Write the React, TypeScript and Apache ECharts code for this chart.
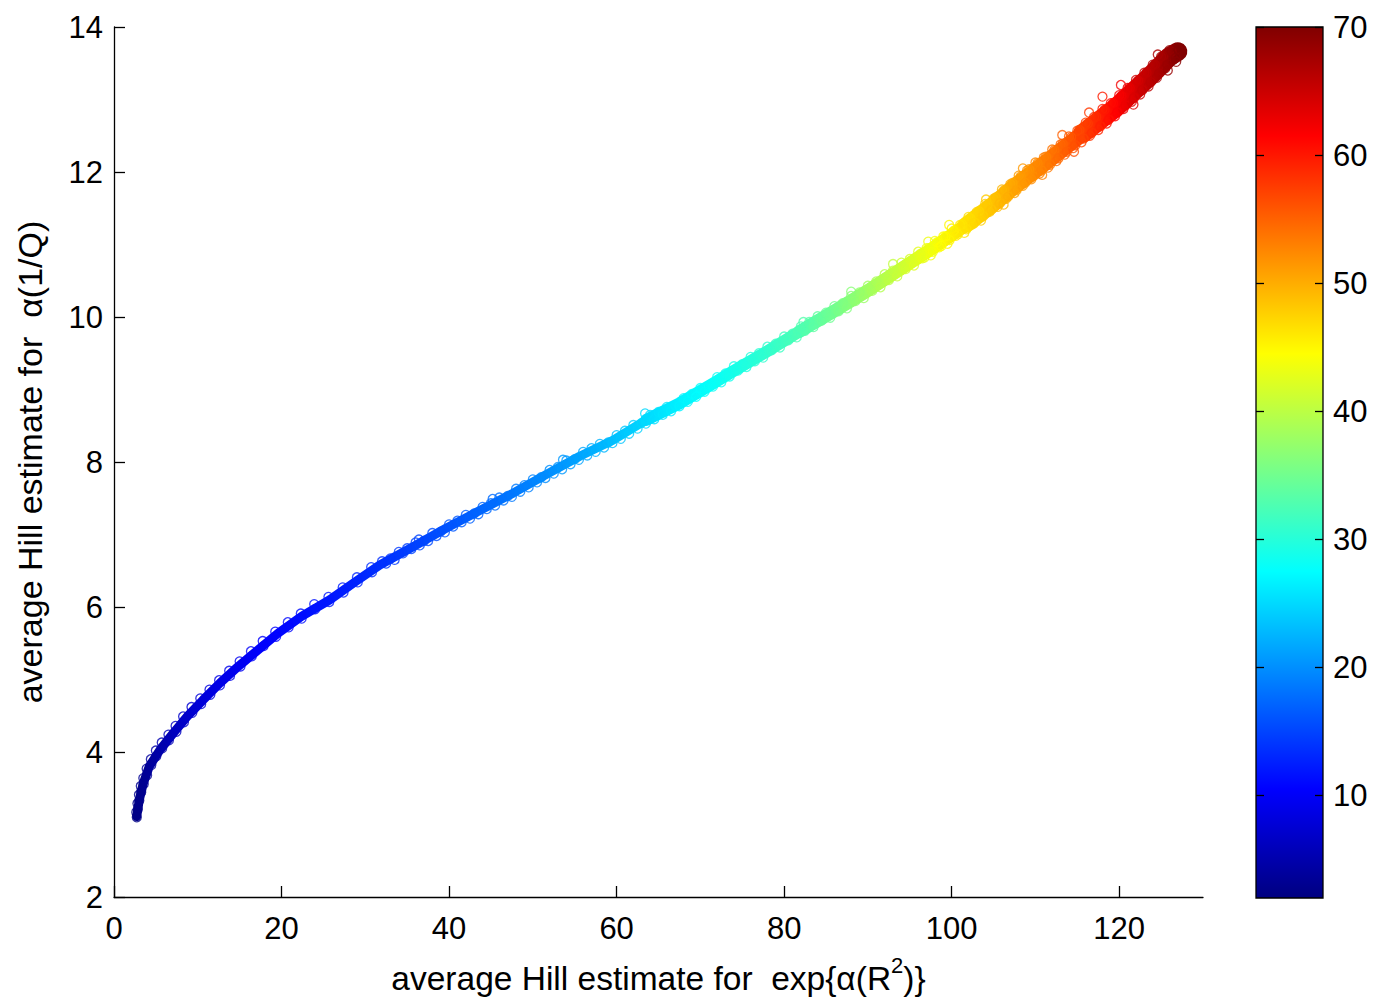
import React, { useEffect, useRef } from "react";
import * as echarts from "echarts";

const FONT = '"Liberation Sans", Arial, Helvetica, sans-serif';

// axis ticks
const xTicks = [0, 20, 40, 60, 80, 100, 120];
const colorTicks = [10, 20, 30, 40, 50, 60, 70];
const colorMin = 2;
const colorMax = 70;

// centre line of the band of points (x, y, colour value)
const centerX = [2.71, 3.02, 3.5, 4.21, 5.49, 7.08, 8.75, 10.65, 12.64, 14.83, 17.22, 19.6, 22.39, 25.77, 28.7, 31.73, 35.7, 39.69, 43.66, 47.63, 51.62, 55.59, 59.56, 63.54, 67.52, 71.49, 73.88, 77.86, 81.83, 85.81, 89.79, 93.76, 97.74, 101.72, 104.9, 107.68, 111.66, 115.63, 119.61, 123.58, 125.97, 127.0];
const centerY = [3.11, 3.34, 3.57, 3.8, 4.03, 4.26, 4.49, 4.72, 4.95, 5.18, 5.41, 5.64, 5.87, 6.1, 6.34, 6.58, 6.83, 7.09, 7.33, 7.57, 7.83, 8.08, 8.3, 8.58, 8.81, 9.08, 9.25, 9.52, 9.8, 10.07, 10.35, 10.65, 10.95, 11.27, 11.55, 11.82, 12.17, 12.53, 12.89, 13.31, 13.59, 13.66];
const centerV = [2.5, 2.8, 3.2, 3.8, 4.8, 6.0, 7.0, 8.0, 8.8, 9.5, 10.2, 10.8, 11.4, 12.0, 12.8, 13.6, 14.8, 16.0, 17.3, 18.5, 19.9, 21.5, 23.2, 25.0, 26.6, 28.0, 29.0, 30.8, 32.6, 35.0, 38.0, 41.0, 43.8, 46.5, 48.5, 50.8, 53.5, 57.0, 61.5, 66.0, 68.5, 70.0];

// individual circles [x, y, colour value]
const lowPoints: number[][] = [
  [2.72, 3.1, 2.4], [2.66, 3.17, 2.5], [2.84, 3.21, 2.6], [2.8, 3.29, 2.7], [3.02, 3.33, 2.8], [2.98, 3.41, 2.9],
  [3.25, 3.45, 3.0], [3.2, 3.53, 3.1], [3.55, 3.56, 3.3], [3.5, 3.64, 3.4], [3.95, 3.68, 3.5], [3.9, 3.77, 3.7],
  [4.45, 3.82, 3.9], [4.4, 3.9, 4.1], [5.05, 3.94, 4.4], [5.0, 4.02, 4.6], [5.75, 4.05, 5.0], [5.7, 4.13, 5.2],
  [6.55, 4.16, 5.6], [6.5, 4.24, 5.8], [7.45, 4.28, 6.2], [7.35, 4.36, 6.4], [8.35, 4.41, 6.8], [8.25, 4.49, 7.0],
  [9.35, 4.54, 7.3], [9.25, 4.62, 7.5], [10.4, 4.66, 7.9], [10.3, 4.74, 8.0], [11.5, 4.79, 8.3], [11.4, 4.86, 8.4],
  [12.65, 4.92, 8.8], [12.55, 4.99, 8.9], [13.85, 5.05, 9.2], [13.75, 5.12, 9.3], [15.1, 5.18, 9.6], [15.0, 5.25, 9.7],
  [16.45, 5.32, 10.0], [16.35, 5.39, 10.1], [17.85, 5.46, 10.3], [17.75, 5.53, 10.4], [19.35, 5.59, 10.6], [19.25, 5.66, 10.7],
  [20.85, 5.72, 10.9], [20.75, 5.79, 11.0], [22.4, 5.84, 11.3], [22.3, 5.91, 11.4], [24.0, 5.97, 11.6], [23.9, 6.04, 11.7],
  [25.7, 6.07, 12.0], [25.6, 6.14, 12.0], [27.4, 6.2, 12.4], [27.3, 6.27, 12.5], [29.1, 6.34, 12.9], [29.0, 6.41, 13.0],
  [30.8, 6.48, 13.4], [30.7, 6.55, 13.5],
];

const midPoints: number[][] = [
  [32.0, 6.63, 13.7], [32.5, 6.6, 13.9], [33.0, 6.67, 14.0], [33.5, 6.65, 14.2], [34.0, 6.76, 14.3], [34.5, 6.74, 14.5],
  [35.0, 6.81, 14.6], [35.5, 6.8, 14.8], [36.0, 6.89, 14.9], [36.5, 6.85, 15.1], [37.0, 6.91, 15.2], [37.5, 6.91, 15.4],
  [38.0, 7.02, 15.5], [38.5, 6.98, 15.7], [39.0, 7.04, 15.8], [39.5, 7.03, 16.0], [40.0, 7.14, 16.1], [40.5, 7.11, 16.3],
  [41.0, 7.19, 16.4], [41.5, 7.17, 16.6], [42.0, 7.27, 16.7], [42.5, 7.22, 16.9], [43.0, 7.29, 17.1], [43.5, 7.28, 17.2],
  [44.0, 7.38, 17.4], [44.5, 7.35, 17.5], [45.0, 7.43, 17.7], [45.5, 7.4, 17.8], [46.0, 7.51, 18.0], [46.5, 7.47, 18.2],
  [47.0, 7.53, 18.3], [47.5, 7.52, 18.5], [48.0, 7.63, 18.6], [48.5, 7.59, 18.8], [49.0, 7.68, 19.0], [49.5, 7.65, 19.1],
  [50.0, 7.76, 19.3], [50.5, 7.72, 19.5], [51.0, 7.79, 19.7], [51.5, 7.78, 19.9], [52.0, 7.89, 20.1], [52.5, 7.84, 20.2],
  [53.0, 7.93, 20.4], [53.5, 7.9, 20.6], [54.0, 8.02, 20.8], [54.5, 7.97, 21.0], [55.0, 8.04, 21.2], [55.5, 8.03, 21.4],
  [56.0, 8.14, 21.7], [56.5, 8.09, 21.9], [57.0, 8.19, 22.1], [57.5, 8.14, 22.3], [58.0, 8.25, 22.5], [58.5, 8.2, 22.7],
  [59.0, 8.27, 23.0], [59.5, 8.26, 23.2], [60.0, 8.37, 23.4], [60.5, 8.32, 23.6], [61.0, 8.43, 23.9], [61.5, 8.39, 24.1],
  [62.0, 8.51, 24.3], [62.5, 8.46, 24.5], [63.0, 8.54, 24.8], [63.5, 8.53, 25.0], [64.0, 8.65, 25.2], [64.5, 8.59, 25.4],
  [65.0, 8.69, 25.6], [65.5, 8.65, 25.8], [66.0, 8.76, 26.0], [66.5, 8.7, 26.2], [67.0, 8.78, 26.4], [67.5, 8.77, 26.6],
  [68.0, 8.88, 26.8], [68.5, 8.83, 27.0], [69.0, 8.94, 27.2], [69.5, 8.9, 27.4], [70.0, 9.02, 27.6], [70.5, 8.97, 27.8],
  [71.0, 9.05, 27.9], [71.5, 9.04, 28.0], [53.6, 8.03, 20.6], [63.4, 8.67, 25.0], [45.2, 7.49, 17.7], [36.4, 6.93, 15.0],
];

const highPoints: number[][] = [
  [72.0, 9.17, 28.2], [72.5, 9.1, 28.4], [73.0, 9.22, 28.6], [73.5, 9.18, 28.8], [74.0, 9.32, 29.0], [74.5, 9.26, 29.2],
  [75.0, 9.35, 29.5], [75.5, 9.31, 29.7], [76.0, 9.45, 29.9], [76.5, 9.39, 30.1], [77.0, 9.5, 30.4], [77.5, 9.44, 30.6],
  [78.0, 9.59, 30.8], [78.5, 9.54, 31.0], [79.0, 9.63, 31.3], [79.5, 9.58, 31.5], [80.0, 9.73, 31.7], [80.5, 9.68, 31.9],
  [81.0, 9.77, 32.2], [81.5, 9.72, 32.4], [82.0, 9.87, 32.7], [82.5, 9.81, 33.0], [83.0, 9.93, 33.3], [83.5, 9.86, 33.6],
  [84.0, 10.01, 33.9], [84.5, 9.95, 34.2], [85.0, 10.06, 34.5], [85.5, 9.99, 34.8], [86.0, 10.15, 35.1], [86.5, 10.08, 35.5],
  [87.0, 10.19, 35.9], [87.5, 10.12, 36.2], [88.0, 10.29, 36.6], [88.5, 10.22, 37.0], [89.0, 10.34, 37.4], [89.5, 10.26, 37.8],
  [90.0, 10.43, 38.2], [90.5, 10.36, 38.5], [91.0, 10.49, 38.9], [91.5, 10.41, 39.3], [92.0, 10.59, 39.7], [92.5, 10.51, 40.0],
  [93.0, 10.64, 40.4], [93.5, 10.56, 40.8], [94.0, 10.75, 41.2], [94.5, 10.66, 41.5], [95.0, 10.8, 41.9], [95.5, 10.71, 42.2],
  [96.0, 10.9, 42.6], [96.5, 10.81, 42.9], [97.0, 10.95, 43.3], [97.5, 10.85, 43.6], [98.0, 11.05, 44.0], [98.5, 10.96, 44.3],
  [99.0, 11.11, 44.6], [99.5, 11.01, 45.0], [100.0, 11.22, 45.3], [100.5, 11.12, 45.6], [101.0, 11.27, 46.0], [101.5, 11.16, 46.3],
  [102.0, 11.38, 46.7], [102.5, 11.28, 47.0], [103.0, 11.45, 47.3], [103.5, 11.33, 47.6], [104.0, 11.56, 47.9], [104.5, 11.45, 48.3],
  [105.0, 11.63, 48.6], [105.5, 11.52, 49.0], [106.0, 11.76, 49.4], [106.5, 11.63, 49.8], [107.0, 11.83, 50.2], [107.5, 11.71, 50.6],
  [108.0, 11.95, 51.0], [108.5, 11.81, 51.4], [109.0, 12.02, 51.7], [109.5, 11.9, 52.0], [110.0, 12.13, 52.3], [110.5, 11.98, 52.6],
  [111.0, 12.2, 53.0], [111.5, 12.06, 53.4], [112.0, 12.31, 53.8], [112.5, 12.15, 54.3], [113.0, 12.38, 54.7], [113.5, 12.24, 55.2],
  [114.0, 12.49, 55.6], [114.5, 12.33, 56.0], [115.0, 12.57, 56.5], [115.5, 12.41, 56.9], [116.0, 12.68, 57.4], [116.5, 12.5, 57.9],
  [117.0, 12.76, 58.5], [117.5, 12.58, 59.0], [118.0, 12.87, 59.6], [118.5, 12.67, 60.2], [119.0, 12.95, 60.8], [119.5, 12.77, 61.4],
  [120.0, 13.06, 62.0], [120.5, 12.87, 62.6], [121.0, 13.16, 63.1], [121.5, 12.97, 63.7], [122.0, 13.27, 64.2], [122.5, 13.07, 64.8],
  [123.0, 13.37, 65.4], [123.5, 13.18, 65.9], [124.0, 13.48, 66.4], [124.5, 13.3, 66.9], [125.0, 13.59, 67.4], [125.5, 13.43, 68.0],
  [126.0, 13.68, 68.5], [126.5, 13.55, 69.0], [127.0, 13.7, 69.6], [127.2, 13.62, 69.9],
];

const topFillPoints: number[][] = [
  [96.25, 10.87, 42.7], [96.75, 10.82, 43.1], [97.25, 10.95, 43.4], [97.75, 10.9, 43.8], [98.25, 11.03, 44.1], [98.75, 10.98, 44.5],
  [99.25, 11.11, 44.8], [99.75, 11.06, 45.1], [100.25, 11.19, 45.5], [100.75, 11.14, 45.8], [101.25, 11.28, 46.2], [101.75, 11.21, 46.5],
  [102.25, 11.36, 46.8], [102.75, 11.3, 47.1], [103.25, 11.46, 47.4], [103.75, 11.39, 47.8], [104.25, 11.55, 48.1], [104.75, 11.48, 48.4],
  [105.25, 11.65, 48.8], [105.75, 11.57, 49.2], [106.25, 11.75, 49.6], [106.75, 11.66, 50.0], [107.25, 11.85, 50.4], [107.75, 11.75, 50.8],
  [108.25, 11.94, 51.2], [108.75, 11.85, 51.5], [109.25, 12.04, 51.8], [109.75, 11.94, 52.1], [110.25, 12.12, 52.5], [110.75, 12.02, 52.8],
  [111.25, 12.21, 53.2], [111.75, 12.1, 53.6], [112.25, 12.3, 54.0], [112.75, 12.19, 54.5], [113.25, 12.39, 54.9], [113.75, 12.28, 55.4],
  [114.25, 12.48, 55.8], [114.75, 12.37, 56.2], [115.25, 12.58, 56.7], [115.75, 12.46, 57.1], [116.25, 12.67, 57.6], [116.75, 12.54, 58.2],
  [117.25, 12.76, 58.7], [117.75, 12.63, 59.3], [118.25, 12.86, 59.9], [118.75, 12.72, 60.5], [119.25, 12.95, 61.1], [119.75, 12.82, 61.7],
  [120.25, 13.05, 62.3], [120.75, 12.92, 62.8], [121.25, 13.16, 63.4], [121.75, 13.02, 64.0], [122.25, 13.26, 64.5], [122.75, 13.13, 65.1],
  [123.25, 13.37, 65.6], [123.75, 13.24, 66.1], [124.25, 13.48, 66.6], [124.75, 13.36, 67.1], [125.25, 13.6, 67.7], [125.75, 13.48, 68.2],
  [126.25, 13.66, 68.7], [126.75, 13.58, 69.2], [127.1, 13.68, 69.8],
];

const outlierPoints: number[][] = [
  [99.7, 11.27, 45.1], [113.2, 12.51, 55.1], [118.0, 13.04, 59.6], [120.2, 13.2, 62.2], [108.5, 12.05, 51.4], [116.4, 12.82, 57.8],
  [124.6, 13.62, 67.0], [104.1, 11.62, 48.0], [93.0, 10.73, 40.4], [88.0, 10.35, 36.6], [82.3, 9.93, 33.0], [97.2, 11.04, 43.4],
  [106.2, 11.55, 49.5], [110.8, 11.96, 52.8], [114.6, 12.28, 56.1], [121.7, 12.93, 63.8], [125.8, 13.4, 68.3], [126.8, 13.52, 69.3],
];

function clamp01(a: number) {
  return Math.max(0, Math.min(1, a));
}

// MATLAB "jet" colour map
function jet(v: number) {
  const t = clamp01((v - colorMin) / (colorMax - colorMin));
  const r = clamp01(1.5 - Math.abs(4 * t - 3));
  const g = clamp01(1.5 - Math.abs(4 * t - 2));
  const b = clamp01(1.5 - Math.abs(4 * t - 1));
  return `rgb(${Math.round(r * 255)},${Math.round(g * 255)},${Math.round(b * 255)})`;
}

// band line drawn through the centre points from index `from`, coloured by the colour values
function bandLine(from: number, width: number, z: number) {
  const xs = centerX.slice(from);
  const ys = centerY.slice(from);
  const vs = centerV.slice(from);
  const x0 = xs[0];
  const x1 = xs[xs.length - 1];
  const stops = xs.map((x, i) => ({ offset: (x - x0) / (x1 - x0), color: jet(vs[i]) }));
  return {
    type: "line",
    xAxisIndex: 0,
    yAxisIndex: 0,
    data: xs.map((x, i) => [x, ys[i]]),
    showSymbol: false,
    silent: true,
    z,
    lineStyle: {
      width,
      cap: "round",
      join: "round",
      color: new echarts.graphic.LinearGradient(0, 0, 1, 0, stops),
    },
  };
}

export default function App() {
  const ref = useRef<HTMLDivElement>(null);

  useEffect(() => {
    if (!ref.current) return;
    const chart = echarts.init(ref.current, null, { renderer: "svg" });

    const barStops = [0, 0.125, 0.25, 0.375, 0.5, 0.625, 0.75, 0.875, 1].map((t) => ({
      offset: t,
      color: jet(colorMin + t * (colorMax - colorMin)),
    }));

    const allPoints = [...lowPoints, ...midPoints, ...highPoints, ...topFillPoints, ...outlierPoints];

    const labelStyle = { color: "#000", fontSize: 31, fontFamily: FONT };
    const tickLine = { color: "#000", width: 1.3 };

    chart.setOption({
      animation: false,
      backgroundColor: "#fff",
      grid: [
        { left: 114, top: 27, width: 1089, height: 870, containLabel: false, outerBoundsMode: "none" },
        { left: 1256, top: 27, width: 67, height: 871, containLabel: false, outerBoundsMode: "none" },
      ],
      xAxis: [
        {
          gridIndex: 0,
          type: "value",
          min: 0,
          max: 130,
          axisLine: { show: true, onZero: false, lineStyle: tickLine },
          axisTick: { show: true, inside: true, length: 11, lineStyle: tickLine, customValues: xTicks },
          axisLabel: { ...labelStyle, margin: 16, customValues: xTicks },
          splitLine: { show: false },
          name: "{a|average Hill estimate for  exp{α(R}{s|2}{a|)}}",
          nameLocation: "middle",
          nameGap: 57,
          nameTextStyle: {
            color: "#000",
            fontSize: 33.5,
            fontFamily: FONT,
            lineHeight: 48,
            rich: {
              a: { color: "#000", fontSize: 33.5, fontFamily: FONT, lineHeight: 48 },
              s: { color: "#000", fontSize: 22, fontFamily: FONT, lineHeight: 22, verticalAlign: "top" },
            },
          },
        },
        { gridIndex: 1, type: "value", min: 0, max: 1, show: false },
      ],
      yAxis: [
        {
          gridIndex: 0,
          type: "value",
          min: 2,
          max: 14,
          interval: 2,
          axisLine: { show: true, onZero: false, lineStyle: tickLine },
          axisTick: { show: true, inside: true, length: 11, lineStyle: tickLine },
          axisLabel: { ...labelStyle, margin: 11 },
          splitLine: { show: false },
          name: "average Hill estimate for  α(1/Q)",
          nameLocation: "middle",
          nameRotate: 90,
          nameGap: 67,
          nameTextStyle: { color: "#000", fontSize: 34, fontFamily: FONT },
        },
        {
          gridIndex: 1,
          type: "value",
          position: "right",
          min: colorMin,
          max: colorMax,
          z: 10,
          axisLine: { show: false, onZero: false },
          axisTick: { show: true, inside: true, length: 8, lineStyle: tickLine, customValues: colorTicks },
          axisLabel: { ...labelStyle, margin: 10, customValues: colorTicks },
          splitLine: { show: false },
        },
        {
          gridIndex: 1,
          type: "value",
          position: "left",
          min: colorMin,
          max: colorMax,
          z: 10,
          axisLine: { show: false, onZero: false },
          axisTick: { show: true, inside: true, length: 8, lineStyle: tickLine, customValues: colorTicks },
          axisLabel: { show: false },
          splitLine: { show: false },
        },
      ],
      graphic: {
        z: -1,
        elements: [
          {
            type: "rect",
            z: -1,
            silent: true,
            shape: { x: 1256, y: 27, width: 67, height: 871 },
            style: {
              fill: new echarts.graphic.LinearGradient(0, 1, 0, 0, barStops),
              stroke: "#000",
              lineWidth: 1.3,
            },
          },
        ],
      },
      series: [
        bandLine(0, 9, 2),
        bandLine(23, 12, 2),
        bandLine(28, 13, 2),
        bandLine(33, 16, 2),
        bandLine(37, 19, 2),
        {
          type: "scatter",
          xAxisIndex: 0,
          yAxisIndex: 0,
          symbol: "circle",
          symbolSize: 9,
          silent: true,
          z: 3,
          itemStyle: { color: "rgba(0,0,0,0)", borderWidth: 1.3 },
          data: allPoints.map((p) => ({
            value: [p[0], p[1]],
            itemStyle: { color: "rgba(0,0,0,0)", borderColor: jet(p[2]), borderWidth: 1.3 },
          })),
        },
        {
          type: "scatter",
          xAxisIndex: 1,
          yAxisIndex: 1,
          data: [],
          silent: true,
        },
      ],
    });

    return () => chart.dispose();
  }, []);

  return (
    <div
      ref={ref}
      style={{ position: "fixed", left: 0, top: 0, width: 1378, height: 1004, background: "#fff" }}
    />
  );
}
